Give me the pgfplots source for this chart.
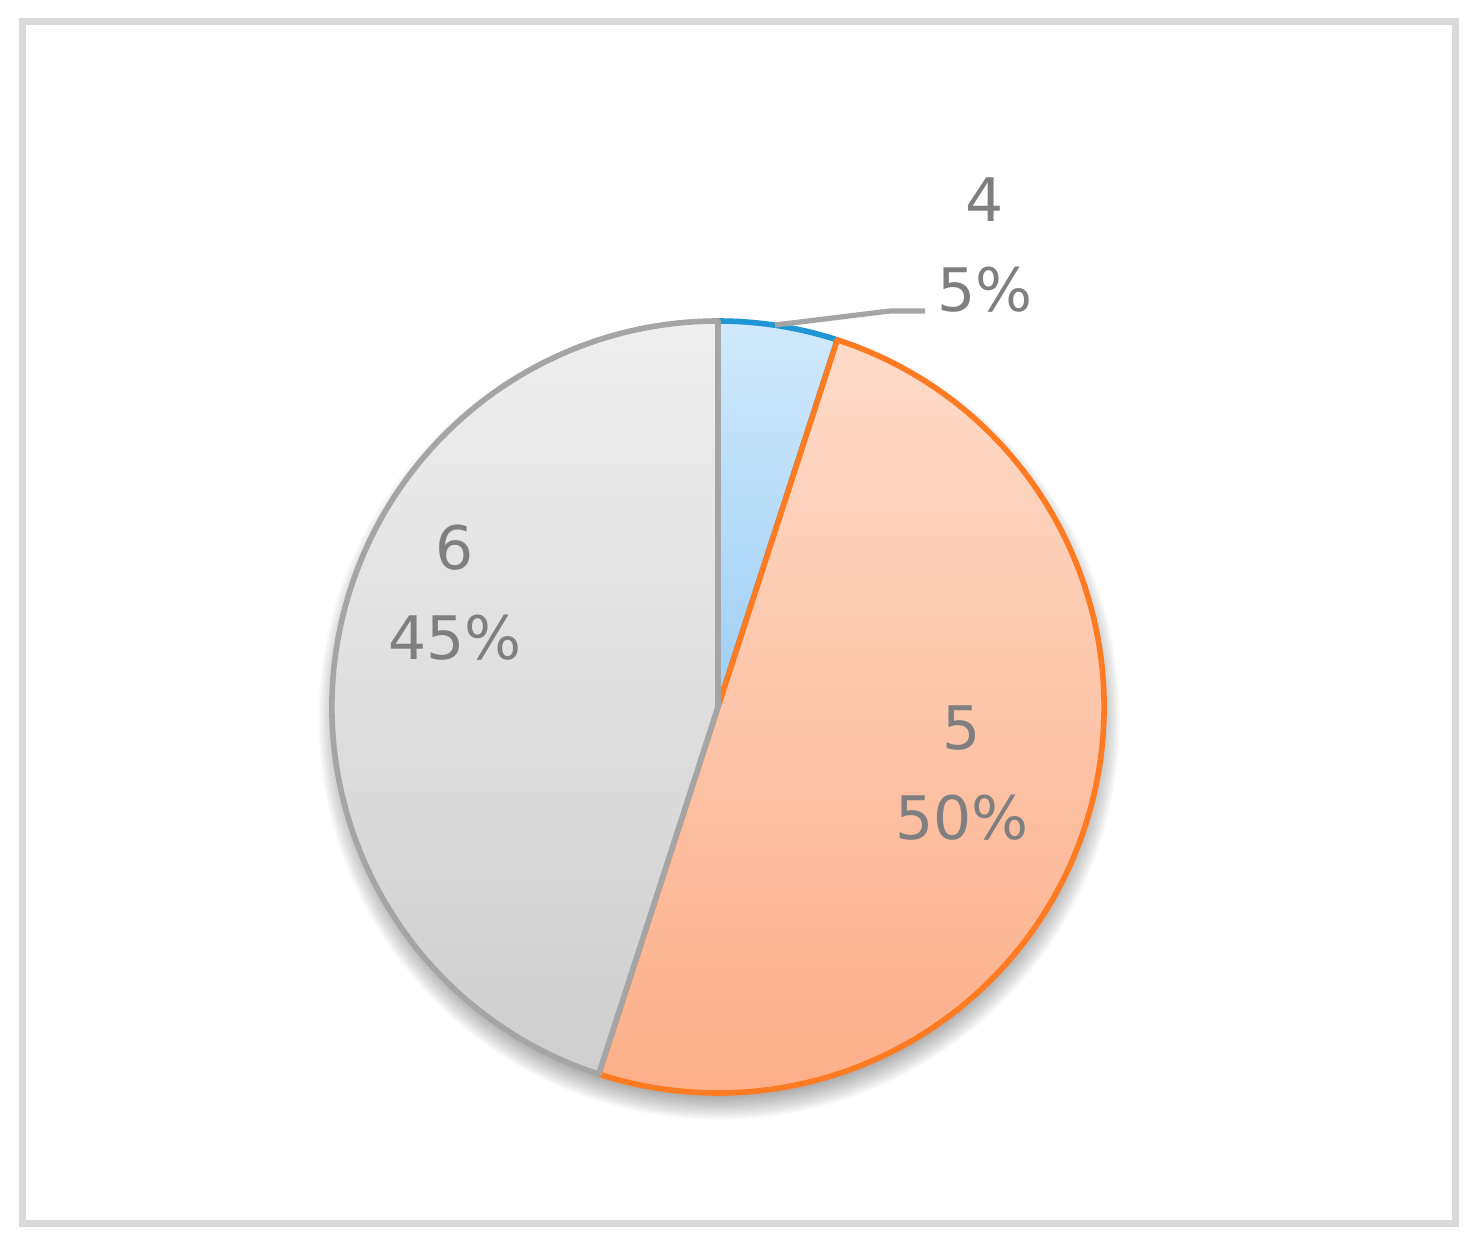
\documentclass[border=0pt]{standalone}
\usepackage{pgfplots}
\pgfplotsset{compat=1.18}
\usepackage{pgfplotstable}
\usepackage{fontspec}
\newfontfamily\labelfont{DejaVu Sans}
\newcommand\lblfont{\labelfont\fontsize{15pt}{22.5pt}\selectfont}

\definecolor{frameGray}{HTML}{D9D9D9}
\definecolor{txtGray}{HTML}{7F7F7F}
\definecolor{leadGray}{HTML}{A5A5A5}
\definecolor{pieBlueE}{HTML}{1F96D6}
\definecolor{pieBlueT}{HTML}{D0E9FB}
\definecolor{pieBlueB}{HTML}{9ECFF5}
\definecolor{pieOrE}{HTML}{FF7B22}
\definecolor{pieOrT}{HTML}{FDDBC9}
\definecolor{pieOrB}{HTML}{FCAE88}
\definecolor{pieGrE}{HTML}{A5A5A5}
\definecolor{pieGrT}{HTML}{EFEFEF}
\definecolor{pieGrB}{HTML}{CECECE}

% share in percent, colours, label centre (px, y up)
\pgfplotstableread{
name value edge top bottom lx ly
4 5 pieBlueE pieBlueT pieBlueB 985 1001
5 50 pieOrE pieOrT pieOrB 962 473
6 45 pieGrE pieGrT pieGrB 455 653
}\piedata

\begin{document}
\begin{tikzpicture}
\begin{axis}[
  hide axis, scale only axis,
  x=0.25pt, y=0.25pt,
  xmin=0, xmax=1482, ymin=0, ymax=1246,
  clip=false,
]
\path (axis cs:0,0) rectangle (axis cs:1482,1246);
\draw[frameGray, line width=1.75pt] (axis cs:22.5,23) rectangle (axis cs:1455,1224);

% soft shadow
\pgfplotsforeachungrouped \k in {1,...,24}{%
  \pgfmathsetmacro\rr{92.5+0.32*\k}
  \edef\cmd{\noexpand\fill[black, opacity=0.018] (axis cs:718,539) ++(0.3pt,-3pt) circle[radius=\rr pt];}
  \cmd
}

% wedges, clockwise from 12 o'clock
\def\startang{90}
\pgfplotsforeachungrouped \i in {0,1,2}{%
  \pgfplotstablegetelem{\i}{value}\of\piedata\let\val\pgfplotsretval
  \pgfplotstablegetelem{\i}{name}\of\piedata\let\nm\pgfplotsretval
  \pgfplotstablegetelem{\i}{edge}\of\piedata\let\ecol\pgfplotsretval
  \pgfplotstablegetelem{\i}{top}\of\piedata\let\tcol\pgfplotsretval
  \pgfplotstablegetelem{\i}{bottom}\of\piedata\let\bcol\pgfplotsretval
  \pgfplotstablegetelem{\i}{lx}\of\piedata\let\lx\pgfplotsretval
  \pgfplotstablegetelem{\i}{ly}\of\piedata\let\ly\pgfplotsretval
  \pgfmathsetmacro\endang{\startang-3.6*\val}
  \edef\cmd{%
    \noexpand\draw[draw=\ecol, line width=1.4pt, line join=round, top color=\tcol, bottom color=\bcol]
      (axis cs:718,539) -- ++(\startang:96.5pt) arc[start angle=\startang, end angle=\endang, radius=96.5pt] -- cycle;
    \noexpand\node[txtGray, align=center, font=\noexpand\lblfont] at (axis cs:\lx,\ly) {\nm\noexpand\\\val\noexpand\%};
  }
  \cmd
  \let\startang\endang
}

% leader line for the small slice
\draw[leadGray, line width=1.3pt] (axis cs:775,921) -- (axis cs:890,935) -- (axis cs:925,935);
\end{axis}
\end{tikzpicture}
\end{document}
